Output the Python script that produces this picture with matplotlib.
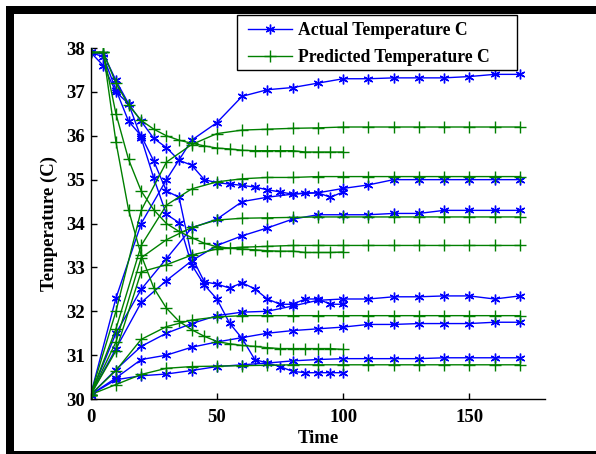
import matplotlib.pyplot as plt
from matplotlib.patches import Rectangle

plt.rcParams['font.family'] = ['Liberation Serif', 'DejaVu Serif']
plt.rcParams['font.weight'] = 'bold'

# time axes: heating runs every 10 s to 170, cooling runs every 5 s to 100
t_heat = list(range(0, 171, 10))
t_cool = list(range(0, 101, 5))

act_heat_1 = [30.1, 32.3, 34.0, 35.0, 35.9, 36.3, 36.9, 37.05, 37.1, 37.2, 37.3, 37.3, 37.32, 37.32, 37.32, 37.35, 37.4, 37.4]
act_heat_2 = [30.1, 31.5, 32.5, 33.2, 33.9, 34.1, 34.5, 34.6, 34.67, 34.7, 34.8, 34.88, 35.0, 35.0, 35.0, 35.0, 35.0, 35.0]
act_heat_3 = [30.1, 31.15, 32.2, 32.7, 33.15, 33.5, 33.72, 33.9, 34.1, 34.2, 34.2, 34.2, 34.23, 34.23, 34.3, 34.3, 34.3, 34.3]
act_heat_4 = [30.1, 30.67, 31.2, 31.5, 31.72, 31.9, 31.98, 32.0, 32.12, 32.25, 32.28, 32.28, 32.33, 32.33, 32.35, 32.35, 32.28, 32.35]
act_heat_5 = [30.1, 30.48, 30.9, 31.0, 31.18, 31.3, 31.4, 31.5, 31.56, 31.6, 31.64, 31.7, 31.7, 31.72, 31.72, 31.72, 31.75, 31.75]
act_heat_6 = [30.1, 30.44, 30.53, 30.57, 30.65, 30.74, 30.78, 30.82, 30.87, 30.9, 30.92, 30.92, 30.92, 30.92, 30.94, 30.94, 30.94, 30.94]

pred_heat_1 = [30.1, 32.0, 34.3, 35.4, 35.8, 36.05, 36.13, 36.15, 36.17, 36.18, 36.2, 36.2, 36.2, 36.2, 36.2, 36.2, 36.2, 36.2]
pred_heat_2 = [30.1, 31.6, 33.5, 34.42, 34.79, 34.95, 35.02, 35.05, 35.05, 35.07, 35.07, 35.07, 35.07, 35.07, 35.07, 35.07, 35.07, 35.07]
pred_heat_3 = [30.1, 31.3, 33.22, 33.63, 33.91, 34.08, 34.12, 34.13, 34.14, 34.15, 34.15, 34.15, 34.15, 34.15, 34.15, 34.15, 34.15, 34.15]
pred_heat_4 = [30.1, 31.1, 32.9, 33.06, 33.28, 33.42, 33.46, 33.48, 33.5, 33.5, 33.5, 33.5, 33.5, 33.5, 33.5, 33.5, 33.5, 33.5]
pred_heat_5 = [30.1, 30.65, 31.36, 31.65, 31.8, 31.87, 31.9, 31.9, 31.9, 31.9, 31.9, 31.9, 31.9, 31.9, 31.9, 31.9, 31.9, 31.9]
pred_heat_6 = [30.1, 30.33, 30.56, 30.7, 30.74, 30.75, 30.76, 30.77, 30.78, 30.78, 30.78, 30.78, 30.78, 30.78, 30.78, 30.78, 30.78, 30.78]

act_cool_1 = [37.9, 37.87, 37.26, 36.73, 36.33, 35.94, 35.73, 35.44, 35.33, 35.0, 34.93, 34.9, 34.87, 34.83, 34.77, 34.72, 34.67, 34.7, 34.7, 34.6, 34.72]
act_cool_2 = [37.9, 37.8, 37.05, 36.33, 36.0, 35.42, 34.74, 34.6, 33.25, 32.67, 32.62, 32.53, 32.65, 32.51, 32.28, 32.16, 32.16, 32.28, 32.28, 32.16, 32.16]
act_cool_3 = [37.9, 37.6, 37.0, 36.73, 35.95, 35.03, 34.21, 34.02, 33.06, 32.6, 32.28, 31.73, 31.38, 30.9, 30.82, 30.74, 30.63, 30.6, 30.6, 30.6, 30.6]

pred_cool_1 = [37.9, 37.9, 37.2, 36.7, 36.35, 36.15, 36.0, 35.9, 35.83, 35.77, 35.72, 35.7, 35.67, 35.66, 35.66, 35.66, 35.66, 35.63, 35.63, 35.63, 35.63]
pred_cool_2 = [37.9, 37.9, 36.5, 35.46, 34.74, 34.31, 34.0, 33.82, 33.68, 33.55, 33.47, 33.44, 33.42, 33.4, 33.38, 33.37, 33.37, 33.34, 33.34, 33.34, 33.35]
pred_cool_3 = [37.9, 37.9, 35.86, 34.31, 33.28, 32.53, 32.07, 31.77, 31.58, 31.43, 31.31, 31.26, 31.22, 31.2, 31.17, 31.15, 31.15, 31.15, 31.15, 31.15, 31.13]

actual_heat = [act_heat_1, act_heat_2, act_heat_3, act_heat_4, act_heat_5, act_heat_6]
predicted_heat = [pred_heat_1, pred_heat_2, pred_heat_3, pred_heat_4, pred_heat_5, pred_heat_6]
actual_cool = [act_cool_1, act_cool_2, act_cool_3]
predicted_cool = [pred_cool_1, pred_cool_2, pred_cool_3]

blue = (0, 0, 1)
green = (0, 0.5, 0)
W, H = 596, 454

fig = plt.figure(figsize=(W / 100, H / 100), dpi=100)
ax = fig.add_axes([0.1522, 0.1211, 0.7623, 0.7731])

# matlab style asterisk for the measured runs, plus for the model
blue_style = dict(color=blue, marker=(6, 2, 0), markersize=7, linewidth=1, markeredgewidth=1)
green_style = dict(color=green, marker='+', markersize=8, linewidth=1, markeredgewidth=1)

for series in actual_heat:
    ax.plot(t_heat, series, **blue_style)
for series in actual_cool:
    ax.plot(t_cool, series, **blue_style)
for series in predicted_heat:
    ax.plot(t_heat, series, **green_style)
for series in predicted_cool:
    ax.plot(t_cool, series, **green_style)

ax.set_xlim(0, 180)
ax.set_ylim(30, 38)
ax.set_xticks([0, 50, 100, 150])
ax.set_yticks(range(30, 39))
ax.tick_params(direction='in', length=4, width=1, labelsize=13.5)
ax.tick_params(axis='x', pad=7)
ax.tick_params(axis='y', pad=4)
for lbl in ax.get_xticklabels() + ax.get_yticklabels():
    lbl.set_fontweight('bold')
ax.spines['top'].set_visible(False)
ax.spines['right'].set_visible(False)
for s in ['left', 'bottom']:
    ax.spines[s].set_linewidth(1)

ax.set_xlabel('Time', fontsize=13.5, fontweight='bold', labelpad=3)
ax.set_ylabel('Temperature (C)', fontsize=13.5, fontweight='bold', labelpad=6)

# legend box sits partly above the axes, drawn as a plain rectangle
fig.add_artist(Rectangle((237 / W, 1 - 70 / H), 280 / W, 55 / H, transform=fig.transFigure,
                         facecolor='white', edgecolor='black', linewidth=1, zorder=4))
handles = [plt.Line2D([], [], **blue_style), plt.Line2D([], [], **green_style)]
leg = fig.legend(handles, ['Actual Temperature C', 'Predicted Temperature C'],
                 loc='upper left', bbox_to_anchor=(248 / W, 1 - 22 / H),
                 bbox_transform=fig.transFigure, frameon=False,
                 prop={'size': 12.7, 'weight': 'bold'},
                 handlelength=2.5, labelspacing=0.55, borderaxespad=0,
                 borderpad=0, handletextpad=0.35)
leg.set_zorder(5)

# black frame round the picture (top and left thick, bottom thin)
fig.add_artist(Rectangle((6 / W, 1 - 14 / H), 1, 8 / H, transform=fig.transFigure,
                         facecolor='black', edgecolor='none'))
fig.add_artist(Rectangle((6 / W, 0), 8 / W, 1 - 6 / H, transform=fig.transFigure,
                         facecolor='black', edgecolor='none'))
fig.add_artist(Rectangle((6 / W, 0), 1, 3 / H, transform=fig.transFigure,
                         facecolor='black', edgecolor='none'))

fig.savefig('out.png', dpi=100)
